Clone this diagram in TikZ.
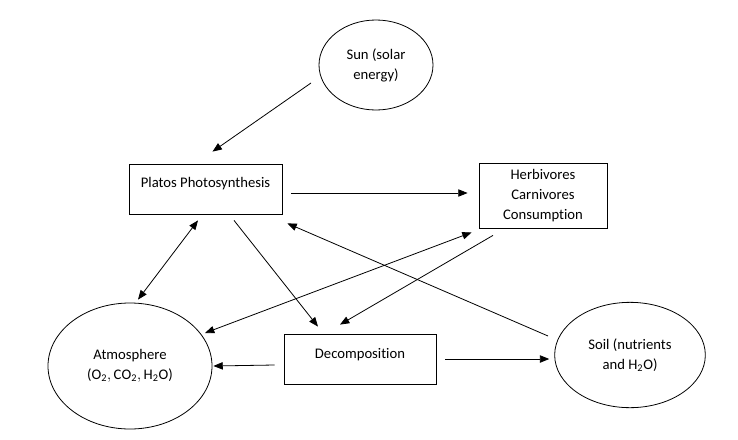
\documentclass[tikz,border=0pt]{standalone}
\usepackage{fontspec}
\setmainfont{Carlito}[Ligatures={NoCommon}, RawFeature={-liga;-clig;-calt;-dlig}]
\usetikzlibrary{shapes.geometric}
\usetikzlibrary{arrows.meta}
\tikzset{   box/.style = {rectangle, draw = black, line width=0.6pt, fill = white, inner ysep=0pt, align=center},
            blob/.style = {ellipse, draw = black, line width=0.6pt, fill = white, inner sep=0pt, align=center},
            arr/.style = {line width=0.6pt, -{Triangle[length=7pt,width=5.5pt]}},
            twoway/.style = {line width=0.6pt, {Triangle[length=7pt,width=5.5pt]}-{Triangle[length=7pt,width=5.5pt]}}}

\begin{document}
\begin{tikzpicture}[x=0.75pt, y=-0.75pt, font=\fontsize{11}{15}\selectfont]
                        \path[use as bounding box, fill=white] (0,0) rectangle (738,439);
                        \node[blob, minimum width=85.5pt, minimum height=67.5pt] (sun) at (376,65) {Sun (solar\\energy)};
                        \node[box, minimum width=114.75pt, text height=17.8pt, text depth=19.7pt] (plat) at (205.5,189) {Platos Photosynthesis};
                        \node[box, minimum width=96pt, minimum height=48.75pt] (herb) at (543,195.5) {Herbivores\\Carnivores\\Consumption};
                        \node[blob, minimum width=123pt, minimum height=94.5pt] (atm) at (130,366) {Atmosphere\\($\mathrm{O_2}, \mathrm{CO_2}, \mathrm{H_2O}$)};
                        \node[box, minimum width=114pt, text height=18.5pt, text depth=19pt] (dec) at (360,359) {Decomposition};
                        \node[blob, minimum width=113pt, minimum height=79pt] (soil) at (630,355) {Soil (nutrients\\and $\mathrm{H_2O}$)};

                        \draw[arr] ([shift={(-65,18)}]sun.center) -- ([shift={(7,-12)}]plat.north);
                        \draw[arr] ([shift={(9,4)}]plat.east) -- ([shift={(-11,-2.5)}]herb.west);
                        \draw[twoway] ([shift={(-7.5,6)}]plat.south) -- ([shift={(8,-3)}]atm.north);
                        \draw[arr] ([shift={(28.5,6)}]plat.south) -- ([shift={(-42,-7)}]dec.north);
                        \draw[arr] ([shift={(-50,7)}]herb.south) -- ([shift={(-20,-9)}]dec.north);
                        \draw[twoway] ([shift={(75,-33)}]atm.center) -- ([shift={(-7,4)}]herb.south west);
                        \draw[arr] ([shift={(-82,-19)}]soil.center) -- ([shift={(5,9)}]plat.south east);
                        \draw[arr] ([shift={(-9,6)}]dec.west) -- ([shift={(1,0)}]atm.east);
                        \draw[arr] ([shift={(9,0)}]dec.east) -- ([shift={(-5,4)}]soil.west);
                      \end{tikzpicture}
\end{document}
